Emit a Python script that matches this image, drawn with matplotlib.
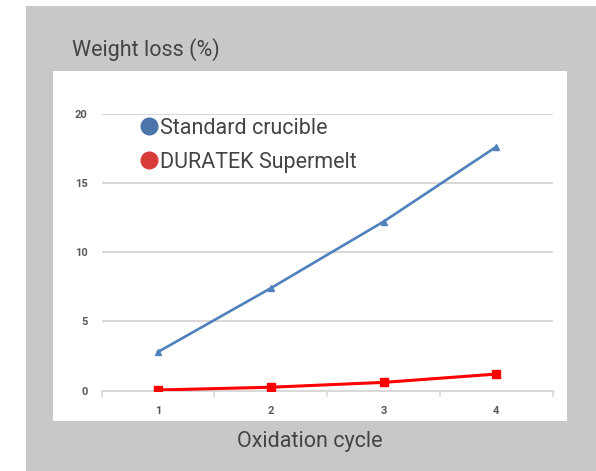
import matplotlib.pyplot as plt
from matplotlib.patches import Rectangle
from matplotlib.lines import Line2D

# data
cycles = [1, 2, 3, 4]
standard = [2.8, 7.4, 12.2, 17.6]
duratek = [0.05, 0.25, 0.6, 1.2]
series_names = ['Standard crucible', 'DURATEK Supermelt']

W, H = 596, 471
fig = plt.figure(figsize=(W / 100, H / 100), dpi=100)
fig.patch.set_facecolor('white')

def px_rect(x0, y0, x1, y1, color):
    # rectangle in pixel coords (origin top-left)
    fig.patches.append(Rectangle((x0 / W, 1 - y1 / H), (x1 - x0) / W, (y1 - y0) / H,
                                 transform=fig.transFigure, facecolor=color,
                                 edgecolor='none', zorder=-5))

px_rect(26, 6, 596, 471, '#c7c8ca')
px_rect(53, 71, 567, 421, 'white')

ax = fig.add_axes([101.7 / W, 1 - 390.7 / H, 451 / W, (390.7 - 113.5) / H])
ax.set_facecolor('none')

font = 'Roboto'
txt = '#444444'

ax.plot(cycles, standard, color='#4f81bd', lw=1.9, marker='^', ms=4.5, zorder=3)
ax.plot(cycles, duratek, color='#ff0000', lw=2.2, marker='s', ms=6, zorder=3)

ax.set_xlim(0.5, 4.5)
ax.set_ylim(0, 20)
ax.set_yticks([0, 5, 10, 15, 20])
ax.set_xticks(cycles)
ax.grid(axis='y', color='#d9d9d9', lw=1.5)
ax.set_axisbelow(True)
for s in ['top', 'right', 'left']:
    ax.spines[s].set_visible(False)
ax.spines['bottom'].set_color('#d9d9d9')
ax.spines['bottom'].set_linewidth(1.5)
ax.tick_params(axis='y', length=0, pad=10, labelsize=8, labelcolor='#595959')
ax.tick_params(axis='x', length=0, pad=11, labelsize=8, labelcolor='#595959')
for lab in ax.get_xticklabels() + ax.get_yticklabels():
    lab.set_fontweight('bold')
    lab.set_fontfamily(font)

# category boundary ticks like Excel
for xb in [0.5, 1.5, 2.5, 3.5, 4.5]:
    ax.plot([xb, xb], [0, -0.35], color='#d9d9d9', lw=1.2, clip_on=False, zorder=2)

handles = [Line2D([], [], ls='none', marker='o', ms=12, color='#4a74aa'),
           Line2D([], [], ls='none', marker='o', ms=12, color='#d93a3a')]
ax.legend(handles, series_names, loc='upper left', bbox_to_anchor=(0.015, 1.055),
          frameon=False, handletextpad=-0.5, labelspacing=0.6,
          prop={'family': font, 'size': 15.5}, labelcolor=txt)

fig.text(72 / W, 1 - 50 / H, 'Weight loss (%)', fontsize=15.5, family=font,
         color=txt, ha='left', va='center')
fig.text(310 / W, 1 - 442 / H, 'Oxidation cycle', fontsize=15.5, family=font,
         color=txt, ha='center', va='center')

fig.savefig('out.png', dpi=100)
